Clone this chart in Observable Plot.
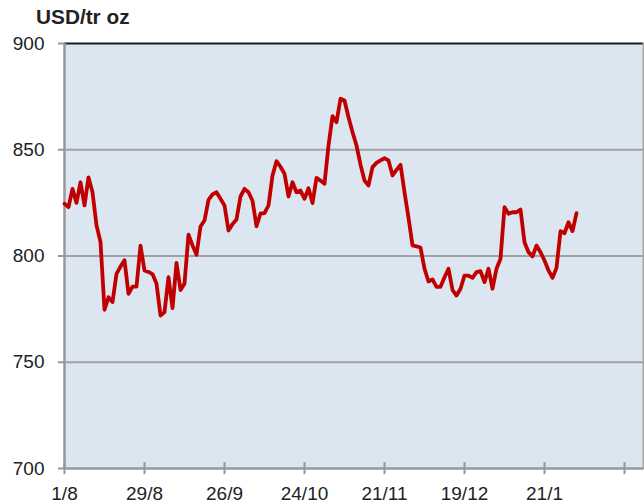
<!DOCTYPE html>
<html>
<head>
<meta charset="utf-8">
<script src="https://cdn.jsdelivr.net/npm/d3@7"></script>
<script src="https://cdn.jsdelivr.net/npm/@observablehq/plot@0.6"></script>
<style>
  html, body { margin: 0; padding: 0; background: #ffffff; }
  #wrap { position: relative; width: 644px; height: 504px; overflow: hidden; }
  #title { position: absolute; left: 36px; top: 5px; font: bold 20.8px "Liberation Sans", Arial, sans-serif; color: #222; }
  #chart { position: absolute; left: 0; top: 0; }
</style>
</head>
<body>
<div id="wrap">
  <div id="chart"></div>
  <div id="title">USD/tr oz</div>
</div>
<script>
// Gold price, USD per troy ounce, one value per trading day
const prices = [
  824.6, 823, 831.6, 825, 834.7, 823.8, 837, 830, 814.4, 806.6,
  774.7, 780.6, 778.3, 791.6, 795, 798, 782.2, 785.6, 785.6, 804.9,
  793.2, 792.5, 791.5, 787, 772, 773.6, 790, 775.5, 796.7, 784,
  787, 810, 805, 800.6, 813.9, 816.7, 826.4, 829, 830, 826.9,
  823.8, 812, 815, 817.2, 828, 831.6, 830, 826, 814, 820,
  820.2, 823.8, 837.9, 844.6, 842, 838.7, 828, 834.7, 830, 830.8,
  826.9, 831.9, 824.9, 836.8, 835.5, 834, 852, 865.8, 863, 874,
  873.2, 865.3, 858.3, 852, 843, 835.5, 833.2, 841.8, 843.8, 845,
  846, 845, 837.9, 840.5, 842.9, 830, 818, 805, 804.5, 804,
  794, 788, 789, 785.5, 785.5, 790, 794, 784, 781.4, 784.6,
  790.8, 790.8, 789.7, 792.4, 792.9, 787.7, 794, 784.6, 794, 798.7,
  823, 819.9, 820.6, 820.6, 821.9, 806.5, 801.8, 799.8, 804.9, 801.8,
  797.9, 793.2, 789.7, 794.4, 811.7, 810.7, 815.9, 811.7, 820.2
];
// x tick positions (trading-day index) and their labels
const xTicks = [0, 20, 40, 60, 80, 100, 120, 140];
const xTickLabels = ["1/8", "29/8", "26/9", "24/10", "21/11", "19/12", "21/1", ""];
const yTicks = [700, 750, 800, 850, 900];
const yGrid = [750, 800, 850];

const data = prices.map((v, i) => ({i, v}));
const labelOf = new Map(xTicks.map((t, k) => [t, xTickLabels[k]]));

const chart = Plot.plot({
  width: 644,
  height: 504,
  marginLeft: 64,
  marginRight: 1,
  marginTop: 43,
  marginBottom: 36,
  style: {fontFamily: "'Liberation Sans', Arial, sans-serif", fontSize: "19px", color: "#222", background: "transparent", overflow: "visible"},
  x: {domain: [0, 144.75]},
  y: {domain: [700, 900]},
  marks: [
    Plot.frame({fill: "#dce6f1", stroke: null}),
    Plot.gridY(yGrid, {stroke: "#a2a2a2", strokeOpacity: 1, strokeWidth: 2}),
    Plot.ruleY([900], {stroke: "#1e1e1e", strokeWidth: 2}),
    Plot.frame({anchor: "right", stroke: "#a8a8a8", strokeWidth: 2}),
    Plot.ruleX([0], {stroke: "#999999", strokeWidth: 2.5}),
    Plot.ruleY([700], {stroke: "#999999", strokeWidth: 2.5}),
    Plot.axisY(yTicks, {tickSize: 6, tickPadding: 14, stroke: "#999999", strokeWidth: 2, label: null, fill: "#222"}),
    Plot.axisX(xTicks, {tickSize: 6, tickPadding: 12, stroke: "#999999", strokeWidth: 2, label: null, fill: "#222",
      tickFormat: d => labelOf.get(d)}),
    Plot.axisX(xTicks, {tickSize: -6, stroke: "#999999", strokeWidth: 2, label: null, text: null}),
    Plot.lineY(data, {x: "i", y: "v", stroke: "#c00000", strokeWidth: 3.8, strokeLinejoin: "round", strokeLinecap: "round"})
  ]
});
document.getElementById("chart").appendChild(chart);
</script>
</body>
</html>
